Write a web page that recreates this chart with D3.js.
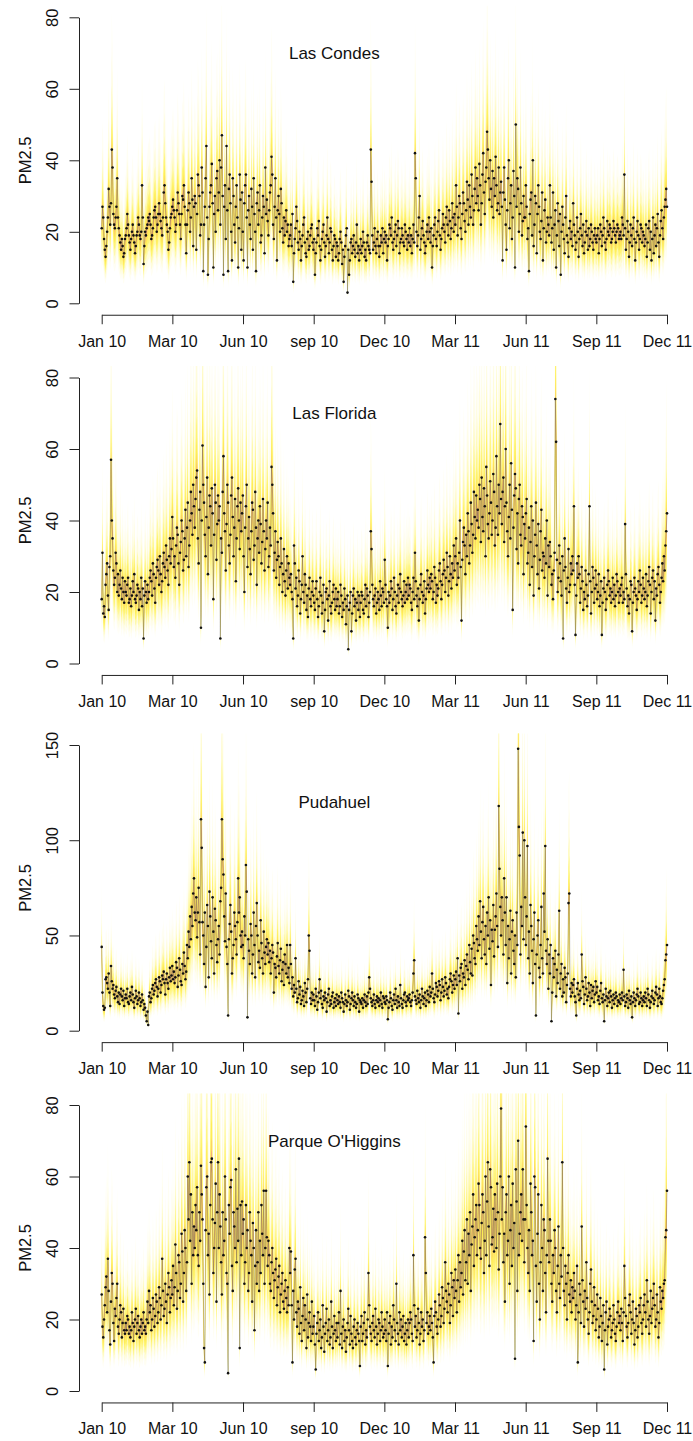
<!DOCTYPE html>
<html>
<head>
<meta charset="utf-8">
<script src="https://cdn.jsdelivr.net/npm/d3@7"></script>
<style>
  body { margin: 0; background: #fff; }
  svg { display: block; font-family: "Liberation Sans", Arial, Helvetica, sans-serif; }
</style>
</head>
<body>
<div id="chart"></div>
<script>
// daily PM2.5, Jan 2010 - Dec 2011 (one line per month)
var lasCondes = [
  21,27,24,18,15,13,16,20,24,32,27,22,28,43,38,25,22,21,24,27,35,24,21,19,17,15,18,16,13,14,18,
  19,21,25,22,19,17,15,18,20,22,19,17,14,16,19,20,24,22,19,18,20,33,24,11,16,20,19,21,
  22,24,23,25,22,18,19,21,24,26,27,24,20,22,25,28,25,23,21,19,24,31,33,28,24,22,20,15,17,21,24,
  25,27,29,26,24,20,22,26,31,28,25,22,18,25,30,29,33,27,22,14,22,26,31,28,20,24,35,29,16,27,
  30,28,15,25,36,33,30,19,22,38,31,9,22,27,35,44,24,8,18,27,31,33,39,28,10,25,30,20,35,37,26,
  31,40,22,38,47,30,8,27,33,18,44,26,9,32,36,28,20,12,35,30,22,17,27,33,24,10,21,36,29,15,
  31,20,12,28,33,36,24,10,26,30,22,18,32,27,15,35,25,20,9,28,31,22,26,33,17,19,24,30,27,14,38,
  25,29,23,19,26,31,33,41,36,22,18,27,35,24,12,26,30,25,20,32,28,21,17,24,19,23,26,20,22,16,18,
  19,22,16,25,6,14,18,21,27,23,17,15,20,18,12,16,19,22,24,17,14,13,18,20,15,16,19,21,22,17,
  15,18,8,14,17,21,19,23,16,12,15,18,20,22,17,13,16,19,24,18,14,17,21,20,15,12,16,19,18,13,17,
  16,12,14,18,20,17,11,15,6,13,16,19,21,3,15,8,12,17,18,14,16,19,15,13,17,22,14,16,12,15,
  18,14,16,20,17,13,15,12,17,19,16,15,14,43,34,19,15,17,21,16,14,18,20,16,13,16,19,17,21,14,18,
  20,17,19,12,16,18,22,21,19,24,17,15,18,20,22,16,19,23,21,14,17,18,21,19,17,16,22,20,18,15,19,
  17,21,16,19,14,18,22,17,42,35,20,16,19,24,30,15,18,21,23,19,17,14,16,20,22,18,24,20,
  17,21,10,16,19,22,24,18,16,20,23,26,19,15,18,21,25,22,20,17,24,27,22,19,26,23,18,21,28,24,20,
  25,22,33,27,19,24,30,28,21,18,25,31,28,23,20,26,34,29,22,33,27,24,36,30,22,26,32,38,28,35,
  30,26,39,33,22,28,36,42,31,25,34,38,48,43,35,29,40,32,27,37,24,35,30,41,33,26,28,38,25,31,34,
  27,12,31,38,29,22,15,26,35,40,21,28,33,18,24,37,30,10,50,27,35,32,20,25,38,28,19,23,30,24,
  24,33,27,18,21,9,25,29,31,19,40,16,22,30,28,14,25,33,27,20,18,23,31,12,21,26,29,17,20,24,22,
  19,33,24,17,21,31,15,22,26,10,19,28,23,16,25,8,20,27,22,18,14,24,30,19,17,13,21,23,18,20,16,
  28,22,19,15,17,24,20,13,18,21,25,19,16,22,14,17,20,23,19,15,21,16,18,22,20,17,15,19,21,18,
  17,19,21,14,18,22,20,16,19,24,21,17,15,18,23,20,19,22,21,17,18,20,23,21,19,17,20,22,21,18,19,
  20,18,24,22,19,36,21,15,18,23,20,13,17,22,19,16,21,24,18,12,17,20,23,19,15,18,22,21,17,20,
  19,16,18,22,13,17,21,23,15,20,12,18,24,14,19,22,16,21,25,17,13,19,23,26,21,18,24,27,29,32,27
];

var lasFlorida = [
  18,31,14,16,13,22,25,28,19,15,27,30,57,40,35,26,22,24,31,28,20,25,19,22,26,21,18,24,20,17,23,
  20,19,22,24,17,18,21,16,19,23,20,25,18,17,19,22,21,15,20,18,24,16,21,7,19,23,20,17,
  22,18,20,24,26,23,19,28,25,21,17,24,27,29,26,22,30,25,20,23,28,31,27,24,33,29,26,22,30,35,28,
  32,41,35,27,30,24,33,38,36,28,22,31,34,40,37,26,29,35,43,30,38,45,27,33,40,48,42,36,50,44,
  38,46,52,54,35,28,43,48,10,40,61,50,45,36,30,41,52,25,38,47,44,33,49,42,18,36,50,45,29,39,47,
  40,44,7,35,31,48,58,42,37,26,39,50,45,33,28,36,47,52,41,30,38,46,23,35,44,49,40,32,45,37,
  42,47,30,20,38,44,50,27,35,41,32,25,37,45,43,29,33,48,38,22,35,40,31,44,39,28,34,46,37,26,32,
  40,35,45,27,30,38,33,55,50,42,26,31,37,24,29,34,30,22,27,35,28,20,25,32,23,19,26,30,21,28,24,
  22,25,20,18,7,33,28,21,24,16,19,26,23,14,18,22,30,20,17,25,22,15,19,13,21,24,18,16,20,23,
  19,17,15,21,23,18,13,16,20,24,19,14,17,22,9,15,20,21,18,12,19,23,16,14,17,20,22,18,15,21,16,
  18,20,14,16,22,19,13,17,15,21,18,11,16,19,4,15,17,20,9,14,19,21,16,18,12,17,20,15,19,13,
  17,20,19,15,14,18,22,16,21,19,13,17,20,37,32,22,18,16,19,21,14,17,20,18,15,23,19,16,21,20,17,
  29,22,18,16,10,20,17,19,23,21,15,18,24,20,16,14,19,22,17,21,25,20,18,16,19,23,17,20,22,18,24,
  19,22,21,17,15,20,24,18,31,23,19,16,21,12,18,22,25,20,17,19,23,14,18,21,26,22,20,24,
  21,25,23,18,20,27,24,17,22,19,21,26,28,23,18,22,25,29,26,20,24,31,27,19,23,30,25,21,28,24,33,
  26,30,35,22,28,24,31,40,27,12,29,34,38,33,25,36,30,42,37,28,33,45,39,31,36,48,41,35,47,40,
  43,38,50,46,34,52,41,37,49,44,30,55,47,39,35,42,51,45,36,40,53,48,33,38,58,44,36,50,42,67,46,
  39,48,52,34,44,60,45,37,30,41,50,35,56,43,15,38,47,53,49,32,42,28,46,50,36,33,44,41,25,39,
  35,42,46,28,31,38,22,34,44,27,40,19,30,36,45,33,25,39,21,29,37,43,26,31,30,24,35,28,40,19,33,
  27,34,30,22,25,18,26,31,74,62,29,20,24,33,28,23,19,30,7,26,35,27,21,17,24,32,20,22,28,25,30,
  26,44,22,8,19,28,24,30,25,17,21,27,23,15,20,18,26,22,16,19,25,44,23,14,20,27,24,17,21,26,
  22,18,20,25,16,19,23,8,17,21,24,20,15,18,22,26,23,19,21,17,20,24,18,22,16,19,25,23,20,17,21,
  19,22,24,17,20,18,39,25,21,16,19,14,18,23,22,9,17,20,24,21,19,15,18,23,20,26,22,17,19,24,
  21,18,20,25,16,19,23,27,22,14,20,24,26,18,23,12,21,19,25,27,22,17,20,24,28,23,30,26,33,37,42
];

var pudahuel = [
  44,20,13,11,12,27,28,25,22,30,20,13,34,26,22,24,19,17,21,23,18,15,20,14,19,22,18,16,21,13,17,
  19,17,22,15,14,18,20,16,23,19,15,12,17,21,18,14,16,20,17,13,15,19,16,11,14,12,8,5,
  10,3,18,20,15,17,22,24,19,21,25,27,23,18,22,28,26,20,24,29,27,31,25,19,27,30,25,22,28,33,26,
  29,34,27,31,25,28,36,33,23,29,38,32,26,24,35,30,41,34,27,31,45,38,52,44,60,48,65,55,72,80,
  62,58,70,49,62,75,57,40,111,96,57,50,35,62,23,44,66,55,28,73,60,47,38,70,52,30,64,58,45,36,48,
  55,40,68,75,111,90,82,60,47,72,44,35,8,48,56,66,52,30,38,45,62,55,48,40,57,80,62,70,50,44,
  52,45,38,60,50,87,73,7,48,42,35,56,50,30,40,62,45,28,55,67,50,36,42,33,58,46,38,30,52,41,35,
  44,48,40,46,36,42,30,38,45,41,20,35,33,28,39,46,34,30,37,43,26,32,36,24,40,35,30,45,28,33,25,
  45,35,22,28,18,24,20,38,22,15,17,26,19,23,14,16,21,18,13,25,20,15,22,27,50,42,17,14,20,16,
  19,16,13,22,18,11,15,20,27,17,21,14,12,18,16,20,17,10,15,19,22,13,16,14,18,20,12,15,17,13,19,
  16,14,18,15,12,20,17,15,10,14,19,16,13,15,21,18,11,14,17,20,16,13,18,15,12,14,19,17,10,16,
  15,14,17,12,16,19,15,13,18,14,20,28,22,17,15,13,16,19,14,12,16,18,15,17,13,16,20,14,12,18,17,
  15,14,18,16,6,12,15,20,17,13,11,16,19,14,22,16,12,18,15,13,24,17,14,12,16,19,20,15,13,18,16,
  17,19,15,13,16,20,30,37,18,16,14,21,17,15,19,12,16,22,18,14,17,20,13,16,21,19,15,23,
  18,20,30,22,17,15,19,25,23,18,21,26,24,16,20,27,23,18,21,28,25,19,22,17,23,27,30,26,20,24,29,
  22,27,31,24,38,9,29,26,33,35,22,30,28,37,24,34,40,32,27,45,36,30,43,29,50,46,38,35,55,48,
  42,60,45,68,52,38,57,65,48,40,55,35,62,50,70,43,58,24,53,47,66,39,53,60,72,55,44,118,85,65,50,
  70,58,40,80,62,45,70,25,55,38,48,63,30,52,58,42,35,50,28,62,45,148,107,92,40,65,55,104,48,100,
  70,45,60,97,38,52,30,66,55,42,25,48,62,35,8,40,50,58,33,28,45,65,38,30,72,52,97,42,35,48,22,
  40,30,45,5,20,38,28,35,42,18,32,25,40,63,22,30,35,18,27,20,33,28,15,24,30,67,72,22,18,25,20,
  24,27,18,15,8,22,25,19,16,21,17,40,26,23,14,19,28,22,16,18,25,20,13,24,17,21,23,15,19,26,
  20,23,16,18,14,21,25,17,15,19,5,16,22,18,13,17,20,15,21,18,12,16,19,14,17,20,18,13,16,15,19,
  14,17,20,16,32,18,13,15,19,17,12,21,16,14,18,7,15,20,17,13,16,19,22,18,14,15,20,17,13,16,
  18,15,20,17,13,22,19,16,12,15,18,21,17,14,16,20,23,19,13,17,22,18,15,14,17,21,24,27,37,40,45
];

var parqueOHiggins = [
  27,18,15,20,24,29,32,22,37,28,17,13,25,33,30,19,14,23,21,26,30,18,16,20,24,22,15,19,23,17,16,
  19,17,21,20,16,18,15,17,22,19,14,18,20,23,16,19,21,17,15,18,20,16,19,22,17,18,16,20,
  25,19,28,22,24,17,20,26,23,18,21,27,25,19,22,29,26,20,24,37,28,21,23,30,25,19,27,33,29,22,26,
  31,27,35,24,29,41,33,23,28,38,36,26,30,44,39,25,33,45,40,28,36,60,48,64,42,55,30,50,38,46,
  40,52,45,57,38,35,50,42,63,55,48,30,12,8,45,57,60,38,44,27,52,64,65,48,33,40,47,58,25,50,64,
  40,55,46,36,27,50,38,42,60,48,33,30,5,52,44,57,59,35,28,50,46,40,62,36,51,42,65,12,52,38,
  53,44,48,30,36,52,40,45,28,33,50,42,38,25,47,40,17,35,45,30,36,50,28,42,33,52,44,38,56,30,40,
  56,43,35,42,38,30,28,36,40,33,26,31,34,37,24,29,32,35,22,27,30,33,25,23,28,31,26,22,29,24,40,
  33,39,24,8,28,20,34,37,22,18,25,23,16,29,19,14,21,26,17,24,20,12,27,15,19,22,18,14,25,16,
  18,21,13,6,16,19,22,14,17,20,12,15,24,18,11,16,19,23,14,17,20,13,15,25,18,12,16,21,17,14,19,
  15,19,22,13,28,16,12,18,20,14,17,11,15,19,23,17,13,21,16,14,12,18,20,15,13,17,19,16,14,7,
  18,21,14,16,19,22,13,17,15,20,33,24,18,16,14,19,21,17,15,23,18,13,16,20,19,14,17,22,18,15,16,
  20,17,14,22,7,16,19,21,13,18,15,24,20,17,14,30,19,16,13,22,17,20,15,18,21,14,16,19,13,17,20,
  15,19,22,20,16,14,38,24,18,21,15,17,23,19,13,16,22,18,20,14,17,43,33,19,22,16,18,21,
  17,23,19,15,8,21,25,22,18,16,20,27,24,18,21,29,26,19,23,36,28,25,22,30,27,19,24,33,29,21,31,
  26,34,28,22,31,38,25,36,29,33,42,27,39,45,31,36,48,30,44,38,50,28,41,46,55,35,43,48,52,38,
  45,58,52,40,37,47,55,50,33,42,60,38,53,64,46,35,62,57,41,43,51,39,55,48,40,58,50,34,44,60,79,
  48,57,36,44,25,50,55,38,42,60,30,45,52,35,58,40,47,9,62,53,28,70,38,44,50,55,42,62,48,36,
  48,74,52,40,33,45,28,58,50,38,42,14,60,57,35,25,44,55,30,20,36,52,40,28,48,45,33,22,38,65,42,
  36,48,42,30,25,38,33,45,40,28,22,35,46,30,26,38,32,64,40,28,24,35,30,20,33,38,27,25,31,22,29,
  26,33,28,20,24,35,8,22,30,27,19,46,31,25,18,28,23,36,26,20,16,22,30,34,25,19,21,29,24,17,
  20,27,23,15,18,26,21,14,19,24,6,17,22,25,13,18,20,23,21,15,17,19,24,20,16,14,18,22,25,19,21,
  17,23,19,14,22,35,26,21,18,15,19,24,27,22,16,20,25,19,13,17,23,21,15,18,24,22,26,19,16,20,
  24,27,22,18,31,25,20,16,21,28,19,23,26,30,24,18,20,27,22,15,19,29,25,23,28,26,30,31,43,45,56
];

var stationNames = ["Las Condes", "Las Florida", "Pudahuel", "Parque O'Higgins"];
var xTickLabels = ["Jan 10", "Mar 10", "Jun 10", "sep 10", "Dec 10", "Mar 11", "Jun 11", "Sep 11", "Dec 11"];
var yTicksSmall = [0, 20, 40, 60, 80];
var yTicksBig = [0, 50, 100, 150];

// fan bands, outer to inner (multiples of the daily level)
var fanLevels = [
  { lo: 0.42, hi: 1.90, color: "#fffef3" },
  { lo: 0.52, hi: 1.62, color: "#fffcda" },
  { lo: 0.62, hi: 1.42, color: "#fff9aa" },
  { lo: 0.71, hi: 1.28, color: "#fff472" },
  { lo: 0.80, hi: 1.17, color: "#ffec55" },
  { lo: 0.88, hi: 1.09, color: "#fdd066" },
  { lo: 0.95, hi: 1.04, color: "#f6a878" }
];

var width = 693, height = 1441;

var panels = [
  { name: stationNames[0], values: lasCondes, ticks: yTicksSmall, yBottom: 303.3, yTop: 17.3, titleAt: 70 },
  { name: stationNames[1], values: lasFlorida, ticks: yTicksSmall, yBottom: 663.5, yTop: 377.5, titleAt: 70 },
  { name: stationNames[2], values: pudahuel, ticks: yTicksBig, yBottom: 1030.7, yTop: 745, titleAt: 120 },
  { name: stationNames[3], values: parqueOHiggins, ticks: yTicksSmall, yBottom: 1391, yTop: 1105, titleAt: 70 }
];

var svg = d3.select("#chart")
  .append("svg")
  .attr("width", width)
  .attr("height", height);

panels.forEach(function (p, k) {
  var n = p.values.length;
  var yMax = p.ticks[p.ticks.length - 1];

  var x = d3.scaleLinear().domain([0, n - 1]).range([101.7, 667]);
  var y = d3.scaleLinear().domain([0, yMax]).range([p.yBottom, p.yTop]);

  // plot region is 4% larger than the data, like R
  var padY = (p.yBottom - p.yTop) * 0.04;
  var left = 79, right = 690;

  var g = svg.append("g");

  var clipId = "clip" + k;
  g.append("clipPath").attr("id", clipId)
    .append("rect")
    .attr("x", left)
    .attr("y", p.yTop - padY)
    .attr("width", right - left)
    .attr("height", p.yBottom - p.yTop + 2 * padY);

  var plot = g.append("g").attr("clip-path", "url(#" + clipId + ")");

  // fan
  fanLevels.forEach(function (lv) {
    var area = d3.area()
      .x(function (d, i) { return x(i); })
      .y0(function (d) { return y(d * lv.lo); })
      .y1(function (d) { return y(d * lv.hi); });
    plot.append("path")
      .datum(p.values)
      .attr("d", area)
      .attr("fill", lv.color);
  });

  // line
  var line = d3.line()
    .x(function (d, i) { return x(i); })
    .y(function (d) { return y(d); });
  plot.append("path")
    .datum(p.values)
    .attr("d", line)
    .attr("fill", "none")
    .attr("stroke", "#5a5a4c")
    .attr("stroke-opacity", 0.45)
    .attr("stroke-width", 0.8);

  // points
  plot.selectAll("circle")
    .data(p.values)
    .enter()
    .append("circle")
    .attr("cx", function (d, i) { return x(i); })
    .attr("cy", function (d) { return y(d); })
    .attr("r", 1.3)
    .attr("fill", "#111");

  // x axis
  var xTickVals = d3.range(xTickLabels.length).map(function (i) { return i * (n - 1) / (xTickLabels.length - 1); });
  var xAxis = g.append("g")
    .attr("transform", "translate(0," + (p.yBottom + padY) + ")")
    .call(d3.axisBottom(x)
      .tickValues(xTickVals)
      .tickFormat(function (d, i) { return xTickLabels[i]; })
      .tickSize(9.5)
      .tickSizeOuter(0)
      .tickPadding(11));
  xAxis.selectAll("text").style("font-size", "16px").attr("fill", "#111");

  // y axis
  var yAxis = g.append("g")
    .attr("transform", "translate(" + left + ",0)")
    .call(d3.axisLeft(y)
      .tickValues(p.ticks)
      .tickSize(9.5)
      .tickSizeOuter(0));
  yAxis.selectAll("text")
    .attr("x", null)
    .attr("dy", null)
    .attr("text-anchor", "middle")
    .attr("transform", "translate(-21,0) rotate(-90)")
    .style("font-size", "16.5px")
    .attr("fill", "#111");

  [xAxis, yAxis].forEach(function (a) {
    a.select(".domain").attr("stroke", "#222");
    a.selectAll(".tick line").attr("stroke", "#222");
  });

  // axis title
  g.append("text")
    .attr("transform", "translate(31," + ((p.yBottom + p.yTop) / 2) + ") rotate(-90)")
    .attr("text-anchor", "middle")
    .style("font-size", "16.5px")
    .attr("fill", "#111")
    .text("PM2.5");

  // station name
  g.append("text")
    .attr("x", x(300))
    .attr("y", y(p.titleAt))
    .attr("dy", "0.35em")
    .attr("text-anchor", "middle")
    .style("font-size", "17px")
    .attr("fill", "#111")
    .text(p.name);
});
</script>
</body>
</html>
